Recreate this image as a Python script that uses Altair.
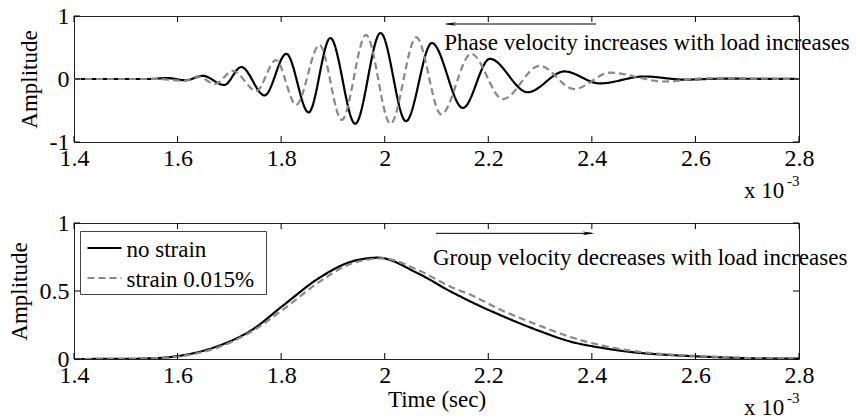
import altair as alt
import pandas as pd

FONT = "Liberation Serif"

series = ["no strain", "strain 0.015%"]
x_ticks = [1.4, 1.6, 1.8, 2.0, 2.2, 2.4, 2.6, 2.8]
y_ticks_top = [-1, 0, 1]
y_ticks_bot = [0, 0.5, 1]

# --- top panel: waveforms (time in 1e-3 s, amplitude)
t_ns = [1.40, 1.50, 1.545, 1.58, 1.615, 1.649, 1.690, 1.723, 1.768, 1.810, 1.853,
        1.895, 1.943, 1.992, 2.041, 2.091, 2.151, 2.203, 2.276, 2.347, 2.415,
        2.501, 2.58, 2.65, 2.80]
a_ns = [0.0, 0.0, 0.0, 0.015, -0.02, 0.05, -0.095, 0.19, -0.26, 0.40, -0.53,
        0.65, -0.71, 0.73, -0.67, 0.57, -0.46, 0.32, -0.21, 0.12, -0.07,
        0.04, -0.01, 0.005, 0.0]
t_st = [1.40, 1.50, 1.56, 1.613, 1.64, 1.672, 1.707, 1.752, 1.790, 1.829, 1.874,
        1.917, 1.964, 2.011, 2.061, 2.109, 2.167, 2.228, 2.299, 2.366, 2.435,
        2.539, 2.62, 2.80]
a_st = [0.0, 0.0, 0.0, -0.03, 0.04, -0.08, 0.13, -0.19, 0.30, -0.41, 0.54,
        -0.65, 0.70, -0.71, 0.66, -0.56, 0.40, -0.32, 0.21, -0.16, 0.10,
        -0.04, 0.01, 0.0]

# --- bottom panel: envelopes
te_ns = [1.40, 1.50, 1.55, 1.614, 1.678, 1.742, 1.806, 1.871, 1.935, 1.987, 2.064,
         2.128, 2.167, 2.231, 2.296, 2.360, 2.424, 2.489, 2.553, 2.617, 2.682, 2.80]
e_ns = [0.0, 0.001, 0.005, 0.03, 0.095, 0.21, 0.40, 0.59, 0.715, 0.745, 0.63,
        0.495, 0.42, 0.31, 0.21, 0.127, 0.079, 0.046, 0.029, 0.017, 0.008, 0.002]
te_st = [1.40, 1.50, 1.55, 1.614, 1.678, 1.742, 1.806, 1.871, 1.935, 1.995, 2.064,
         2.128, 2.167, 2.231, 2.296, 2.360, 2.424, 2.489, 2.553, 2.617, 2.682, 2.80]
e_st = [0.0, 0.001, 0.004, 0.025, 0.085, 0.20, 0.37, 0.56, 0.70, 0.74, 0.655,
        0.53, 0.47, 0.35, 0.25, 0.16, 0.095, 0.054, 0.032, 0.02, 0.01, 0.003]

W = 725
H1 = 126
H2 = 136
TICK = 6
COLORS = ["black", "#888888"]
DASHES = [[1, 0], [7, 4]]
HEAD_LEFT = "M-1,0 L1,-0.3 L0.4,0 L1,0.3 Z"
HEAD_RIGHT = "M1,0 L-1,-0.3 L-0.4,0 L-1,0.3 Z"


def frame(t, a, s):
    return pd.DataFrame({"t": t, "a": a, "s": s})


top_df = pd.concat([frame(t_ns, a_ns, series[0]), frame(t_st, a_st, series[1])])
bot_df = pd.concat([frame(te_ns, e_ns, series[0]), frame(te_st, e_st, series[1])])

xscale = alt.Scale(domain=[1.4, 2.8], nice=False, zero=False)


def xaxis(title):
    kw = dict(values=x_ticks, ticks=False, domain=False, grid=False,
              labelExpr="'' + datum.value", labelFlush=False, labelPadding=4,
              labelOverlap=False)
    if title:
        return alt.Axis(title=title, titlePadding=1, **kw)
    return alt.Axis(title=None, **kw)


def yaxis(vals):
    return alt.Axis(values=vals, title="Amplitude", ticks=False, domain=False, grid=False,
                    labelExpr="'' + datum.value", labelFlush=False, labelPadding=5,
                    titlePadding=8, labelOverlap=False)


def panel(df, ydomain, yvals, H, with_legend, ann, arrow, head_shape, xtitle):
    X = alt.X("t:Q", scale=xscale, axis=xaxis(xtitle))
    Y = alt.Y("a:Q", scale=alt.Scale(domain=ydomain, nice=False, zero=False), axis=yaxis(yvals))
    lines = alt.Chart(df).mark_line(interpolate="monotone", strokeWidth=2.2, clip=True).encode(
        x=X, y=Y,
        color=alt.Color("s:N", scale=alt.Scale(domain=series, range=COLORS), legend=None),
        strokeDash=alt.StrokeDash("s:N", scale=alt.Scale(domain=series, range=DASHES),
                                  legend=None),
        detail="s:N",
    )
    xt = pd.DataFrame({"t": x_ticks})
    yt = pd.DataFrame({"a": yvals})
    xt_top = alt.Chart(xt).mark_rule(color="black").encode(x=X, y=alt.value(0), y2=alt.value(TICK))
    xt_bot = alt.Chart(xt).mark_rule(color="black").encode(x=X, y=alt.value(H - TICK), y2=alt.value(H))
    yt_l = alt.Chart(yt).mark_rule(color="black").encode(y=Y, x=alt.value(0), x2=alt.value(TICK))
    yt_r = alt.Chart(yt).mark_rule(color="black").encode(y=Y, x=alt.value(W - TICK), x2=alt.value(W))

    ann_df = pd.DataFrame({"t": [ann[0]], "a": [ann[1]], "label": [ann[2]]})
    text = alt.Chart(ann_df).mark_text(align="left", baseline="alphabetic", fontSize=23,
                                       font=FONT, color="black").encode(x=X, y=Y, text="label:N")
    ar_df = pd.DataFrame({"t": [arrow[0]], "t2": [arrow[1]], "a": [arrow[2]]})
    arr = alt.Chart(ar_df).mark_rule(color="black", strokeWidth=1).encode(x=X, x2="t2:Q", y=Y)
    hd_df = pd.DataFrame({"t": [arrow[3]], "a": [arrow[2]]})
    head = alt.Chart(hd_df).mark_point(shape=head_shape, filled=True, size=144, color="black",
                                       opacity=1, strokeWidth=0).encode(x=X, y=Y)

    one = pd.DataFrame({"z": [0]})
    x10 = alt.Chart(one).mark_text(align="left", baseline="alphabetic", fontSize=23, font=FONT,
                                   color="black").encode(x=alt.value(670), y=alt.value(H + 56),
                                                         text=alt.value("x 10"))
    sup = alt.Chart(one).mark_text(align="left", baseline="alphabetic", fontSize=15, font=FONT,
                                   color="black").encode(x=alt.value(713), y=alt.value(H + 44),
                                                         text=alt.value("-3"))
    layers = [lines, xt_top, xt_bot, yt_l, yt_r, arr, head, text, x10, sup]

    if with_legend:
        box = alt.Chart(one).mark_rect(fill="white", stroke="#444444", strokeWidth=1).encode(
            x=alt.value(6.5), x2=alt.value(192.5), y=alt.value(8.5), y2=alt.value(71.5))
        layers.append(box)
        for i, name in enumerate(series):
            ly = 25 + 30 * i
            sdf = pd.DataFrame({"s": [name]})
            layers.append(alt.Chart(sdf).mark_rule(color=COLORS[i], strokeWidth=2.2,
                                                   strokeDash=DASHES[i]).encode(
                x=alt.value(13.5), x2=alt.value(47.5), y=alt.value(ly)))
            layers.append(alt.Chart(sdf).mark_text(align="left", baseline="alphabetic",
                                                   fontSize=23, font=FONT, color="black").encode(
                x=alt.value(52.5), y=alt.value(ly + 8.5), text="s:N"))

    return alt.layer(*layers).properties(width=W, height=H)


top = panel(top_df, [-1, 1], y_ticks_top, H1, False,
            (2.115, 0.46, "Phase velocity increases with load increases"),
            (2.12, 2.408, 0.873, 2.1266), HEAD_LEFT, None)
bot = panel(bot_df, [0, 1], y_ticks_bot, H2, True,
            (2.093, 0.69, "Group velocity decreases with load increases"),
            (2.099, 2.40, 0.924, 2.3934), HEAD_RIGHT, "Time (sec)")

chart = alt.vconcat(top, bot, spacing=81, bounds="flush").resolve_scale(
    color="independent", strokeDash="independent").properties(
    padding={"left": 7, "top": 3, "right": 0, "bottom": 0},
    background="white",
).configure(font=FONT).configure_axis(
    labelFont=FONT, labelFontSize=24, labelColor="black", titleFont=FONT, titleFontSize=23,
    titleFontWeight="normal", titleColor="black",
).configure_view(stroke="#222222", strokeWidth=1)

chart.save("out.html", embed_options={"renderer": "svg", "actions": False})
